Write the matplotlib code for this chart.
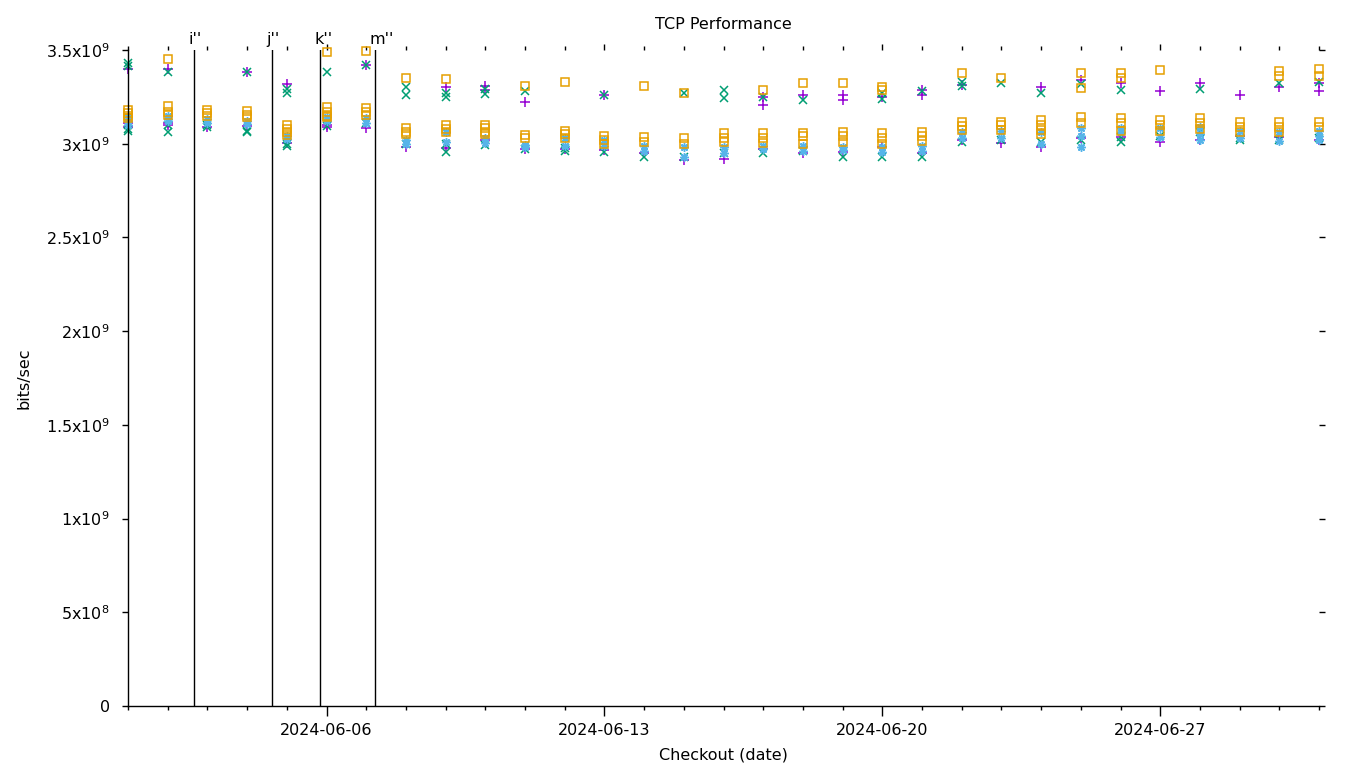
import matplotlib
matplotlib.use("Agg")
import matplotlib.pyplot as plt
import matplotlib.dates as mdates
from matplotlib.ticker import MultipleLocator, FuncFormatter
import numpy as np
import datetime as dt

# days of the checkouts (one column of points per day)
days = [dt.datetime(2024, 6, 1) + dt.timedelta(days=i) for i in range(31)]

# throughput readings per day, in units of 1e9 bits/sec
purple_plus = [
    [3.40, 3.11, 3.09], [3.40, 3.11, 3.10], [3.09], [3.385, 3.095], [3.32, 3.005],
    [3.09, 3.10], [3.42, 3.085], [2.98], [3.30, 2.975], [3.31, 3.285, 3.02],
    [3.22, 2.97], [2.97], [3.26, 2.965], [2.95], [2.915],
    [2.92], [3.25, 3.205, 2.97], [3.26, 2.95], [3.26, 3.235, 2.955], [3.25, 2.98],
    [3.285, 3.26, 2.95], [3.315, 3.02], [3.005], [3.30, 2.985], [3.34, 3.03],
    [3.325, 3.035], [3.28, 3.01], [3.325, 3.02], [3.26, 3.04], [3.30, 3.035],
    [3.325, 3.28, 3.02],
]
green_x = [
    [3.43, 3.415, 3.10, 3.08, 3.07], [3.38, 3.10, 3.06], [3.09, 3.10], [3.385, 3.07, 3.06], [3.29, 3.27, 3.0, 2.99],
    [3.38, 3.095], [3.42, 3.11], [3.30, 3.26, 3.0], [3.27, 3.25, 3.0, 2.955], [3.29, 3.265, 2.995],
    [3.28, 2.97], [2.975, 2.96], [3.26, 2.955], [2.93], [3.27, 2.93],
    [3.285, 3.245, 2.95], [3.25, 2.95], [3.235, 2.96], [2.93], [3.27, 3.24, 2.93],
    [3.28, 2.93], [3.33, 3.31, 3.01], [3.325, 3.02], [3.27, 3.01], [3.32, 3.02],
    [3.285, 3.035, 3.01], [3.04], [3.29, 3.06], [3.02, 3.03], [3.325, 3.02],
    [3.33, 3.03],
]
blue_star = [
    [3.14, 3.12, 3.10], [3.15, 3.13, 3.12], [3.13, 3.11], [3.12, 3.105], [3.04, 3.025],
    [3.14, 3.12], [3.135, 3.11], [3.02, 3.0], [3.06, 3.01], [3.03, 3.005],
    [2.995, 2.98], [3.03, 2.99], [3.02, 2.99], [2.99, 2.96], [2.98, 2.93],
    [2.985, 2.95], [2.99, 2.97], [2.99, 2.96], [2.98, 2.965], [2.98, 2.955],
    [2.99, 2.96], [3.06, 3.03], [3.07, 3.03], [3.06, 3.0], [3.085, 3.04, 2.98],
    [3.085, 3.06], [3.085, 3.035], [3.09, 3.05, 3.02], [3.07, 3.03], [3.06, 3.015],
    [3.07, 3.04, 3.02],
]
orange_sq = [
    [3.18, 3.165, 3.15, 3.135], [3.45, 3.20, 3.17, 3.155], [3.18, 3.165, 3.15], [3.175, 3.155, 3.14], [3.10, 3.08, 3.06, 3.045],
    [3.49, 3.195, 3.17, 3.15, 3.14], [3.495, 3.19, 3.17, 3.155], [3.35, 3.085, 3.06, 3.05], [3.345, 3.10, 3.08, 3.06], [3.10, 3.085, 3.065, 3.05],
    [3.31, 3.045, 3.03], [3.33, 3.07, 3.05, 3.03], [3.04, 3.02, 3.0], [3.31, 3.035, 3.01], [3.27, 3.03, 3.0],
    [3.055, 3.03, 3.01], [3.285, 3.055, 3.03, 3.005], [3.325, 3.055, 3.04, 3.0], [3.325, 3.065, 3.04, 3.01], [3.30, 3.285, 3.055, 3.03, 3.0],
    [3.06, 3.04, 3.015], [3.375, 3.115, 3.095, 3.075], [3.35, 3.115, 3.10, 3.075], [3.125, 3.10, 3.075, 3.05], [3.375, 3.295, 3.14, 3.11],
    [3.375, 3.35, 3.135, 3.11, 3.07], [3.395, 3.125, 3.10, 3.07], [3.135, 3.11, 3.08], [3.115, 3.09, 3.065], [3.39, 3.36, 3.115, 3.09, 3.06],
    [3.40, 3.36, 3.115, 3.09],
]

# marked checkouts
mark_names = ["i''", "j''", "k''", "m''"]
mark_times = ["2024-06-02 16:00", "2024-06-04 15:00", "2024-06-05 20:10", "2024-06-07 05:30"]


def flatten(series):
    xs, ys = [], []
    for d, vals in zip(days, series):
        for v in vals:
            xs.append(d)
            ys.append(v * 1e9)
    return xs, ys


fig = plt.figure(figsize=(13.6, 7.68), dpi=100)
ax = fig.add_axes([128/1360, 62/768, (1319-128)/1360, 656/768])

styles = [
    (purple_plus, '+', '#9400D3', 6.5),
    (green_x, 'x', '#009E73', 5.5),
    (blue_star, (8, 2, 0), '#56B4E9', 6.0),
    (orange_sq, 's', '#E69F00', 5.5),
]
for series, mk, col, ms in styles:
    xs, ys = flatten(series)
    ax.plot(xs, ys, linestyle='none', marker=mk, ms=ms, mew=1.1,
            mec=col, mfc='none', color=col, clip_on=False)

# vertical marker lines with labels
for name, t in zip(mark_names, mark_times):
    x = mdates.date2num(dt.datetime.strptime(t, "%Y-%m-%d %H:%M"))
    ax.axvline(x, color='black', lw=1)
    ax.annotate(name, xy=(x, 1.0), xycoords=('data', 'axes fraction'),
                xytext=(-4, 2), textcoords='offset points',
                ha='left', va='bottom', fontsize=11.5)

ax.set_xlim(dt.datetime(2024, 6, 1), dt.datetime(2024, 7, 1))
ax.set_ylim(0, 3.5e9)

ax.xaxis.set_major_locator(mdates.DayLocator(bymonthday=[6, 13, 20, 27]))
ax.xaxis.set_major_formatter(mdates.DateFormatter('%Y-%m-%d'))
ax.xaxis.set_minor_locator(mdates.DayLocator())
ax.yaxis.set_major_locator(MultipleLocator(5e8))


def yfmt(v, pos):
    if v <= 0:
        return '0' if v == 0 else ''
    e = int(np.floor(np.log10(v) + 1e-9))
    m = v / 10**e
    ms = ('%g' % m)
    return ms + 'x10$^{' + str(e) + '}$'


ax.yaxis.set_major_formatter(FuncFormatter(yfmt))

for s in ['top', 'right']:
    ax.spines[s].set_visible(False)
for s in ['left', 'bottom']:
    ax.spines[s].set_linewidth(1.0)

ax.tick_params(axis='x', which='major', direction='out', top=True, length=7, width=1,
               labelsize=11.5, pad=5)
ax.tick_params(axis='x', which='minor', direction='out', top=True, length=3, width=1)
ax.tick_params(axis='y', which='major', direction='out', right=True, length=4.5, width=1,
               labelsize=11.5, pad=8.5)
# top mirror ticks are shorter than the bottom ones
for t in ax.xaxis.get_major_ticks():
    t.tick2line.set_markersize(4.5)

ax.set_title('TCP Performance', fontsize=11.5, pad=15)
ax.set_xlabel('Checkout (date)', fontsize=11.5)
ax.set_ylabel('bits/sec', fontsize=11.5)
ax.xaxis.set_label_coords(0.5, -0.064)
ax.yaxis.set_label_coords(-0.081, 0.5)

fig.savefig('out.png', dpi=100)
